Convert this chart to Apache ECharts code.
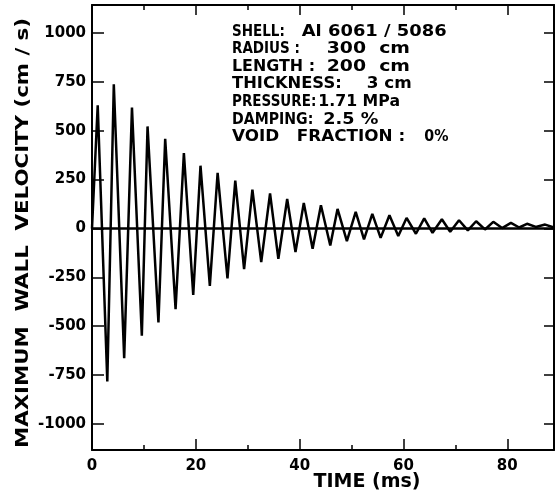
<!DOCTYPE html>
<html><head><meta charset="utf-8">
<script src="https://cdn.jsdelivr.net/npm/echarts@6/dist/echarts.min.js"></script>
<style>html,body{margin:0;padding:0;background:#fff}#c{width:556px;height:495px}</style>
</head><body><div id="c"></div>
<script>
// ---- data ----
const timeMs = [0, 1.1, 2.95, 4.2, 6.2, 7.7, 9.6, 10.7, 12.8, 14.1, 16.1, 17.7, 19.5, 20.9, 22.7, 24.2, 26.1, 27.6, 29.3, 30.9, 32.6, 34.3, 35.9, 37.6, 39.2, 40.8, 42.5, 44.1, 45.9, 47.3, 49.1, 50.8, 52.4, 54.0, 55.6, 57.3, 59.0, 60.6, 62.4, 64.0, 65.6, 67.4, 69.0, 70.7, 72.4, 74.0, 75.7, 77.3, 79.0, 80.7, 82.3, 83.8, 85.5, 87.3, 89];
const velocity = [0, 630, -783, 738, -663, 618, -549, 522, -481, 459, -413, 386, -340, 321, -294, 284, -255, 245, -208, 199, -172, 179, -155, 151, -121, 131, -104, 119, -87, 100, -65, 85, -56, 75, -48, 68, -39, 54, -27, 52, -22, 47, -17, 42, -10, 37, -5, 34, 2, 29, 5, 24, 8, 20, 5];
const xLabelTicks = [0, 20, 40, 60, 80];
const xMajorTicks = [20, 40, 60, 80];
const xMinorTicks = [10, 30, 50, 70];
const yTicks = [-1000, -750, -500, -250, 0, 250, 500, 750, 1000];
const annoLabels = ['SHELL:', 'RADIUS :', 'LENGTH :', 'THICKNESS:', 'PRESSURE:', 'DAMPING:', 'VOID   FRACTION :'];
const annoValues = ['Al 6061 / 5086', '300  cm', '200  cm', '3 cm', '1.71 MPa', '2.5 %', '0%'];
const yName = 'MAXIMUM  WALL  VELOCITY (cm / s)';
const xName = 'TIME (ms)';

// ---- layout / style ----
const FF = '"DejaVu Sans", sans-serif';
const K = '#000';
const XMIN = 0, XMAX = 89, YMIN = -1133, YMAX = 1143;
const labelX = 232;
const labelW = [52, 64.7, 83, 109.7, 82.3, 81.3, 189.7];
const valueX = [301.7, 326.7, 326.7, 366.7, 318.3, 323.3, 424.3];
const valueW = [145, 83.3, 83.3, 45, 81.7, 55, 22.4];
const annoY0 = 31.7, annoDY = 17.6;
const ANNO_FONT = 'bold 15px ' + FF;
const YNAME_FONT = 'bold 18px ' + FF;

const mctx = document.createElement('canvas').getContext('2d');
function fitScale(text, font, w, lo, hi) {
  mctx.font = font;
  const m = mctx.measureText(text).width;
  const s = m > 0 ? w / m : 1;
  return Math.max(lo, Math.min(hi, s));
}

function xAx(pos, ticks, len, showLine, showLabel) {
  return {
    type: 'value', position: pos, min: XMIN, max: XMAX, interval: 10,
    axisLine: { show: showLine, onZero: false, lineStyle: { color: K, width: 2 } },
    axisTick: { show: true, inside: true, length: len, customValues: ticks, lineStyle: { color: K, width: 1.5 } },
    axisLabel: showLabel ? { show: true, customValues: xLabelTicks, formatter: v => String(v), color: K, fontFamily: FF, fontWeight: 'bold', fontSize: 15, margin: 9 } : { show: false },
    splitLine: { show: false }
  };
}
function yAx(pos, len, showLabel) {
  return {
    type: 'value', position: pos, min: YMIN, max: YMAX,
    axisLine: { show: true, onZero: false, lineStyle: { color: K, width: 2 } },
    axisTick: { show: true, inside: true, length: len, customValues: yTicks, lineStyle: { color: K, width: 1.5 } },
    axisLabel: showLabel ? { show: true, customValues: yTicks, formatter: v => String(v), color: K, fontFamily: FF, fontWeight: 'bold', fontSize: 15, margin: 6 } : { show: false },
    splitLine: { show: false }
  };
}

const graphics = [];
graphics.push({ type: 'text', x: 23, y: 233, rotation: Math.PI / 2,
  scaleX: fitScale(yName, YNAME_FONT, 430, 0.5, 2),
  style: { text: yName, font: YNAME_FONT, fill: K, align: 'center', verticalAlign: 'middle' } });
graphics.push({ type: 'text', x: 367, y: 482.5,
  style: { text: xName, font: 'bold 19px ' + FF, fill: K, align: 'center', verticalAlign: 'middle' } });
annoLabels.forEach((t, i) => {
  const y = annoY0 + i * annoDY;
  graphics.push({ type: 'text', x: labelX, y: y, scaleX: fitScale(t, ANNO_FONT, labelW[i], 0.9, 1.12),
    style: { text: t, font: ANNO_FONT, fill: K, align: 'left', verticalAlign: 'middle' } });
  graphics.push({ type: 'text', x: valueX[i], y: y, scaleX: fitScale(annoValues[i], ANNO_FONT, valueW[i], 0.95, 1.3),
    style: { text: annoValues[i], font: ANNO_FONT, fill: K, align: 'left', verticalAlign: 'middle' } });
});

const chart = echarts.init(document.getElementById('c'), null, { renderer: 'canvas' });
chart.setOption({
  animation: false,
  backgroundColor: '#fff',
  grid: { left: 92, right: 2, top: 5, bottom: 45, show: false },
  xAxis: [
    xAx('bottom', xMajorTicks, 11, true, true),
    xAx('bottom', xMinorTicks, 5, false, false),
    xAx('top', xMajorTicks, 10, true, false),
    xAx('top', xMinorTicks, 5, false, false)
  ],
  yAxis: [yAx('left', 12, true), yAx('right', 10, false)],
  graphic: graphics,
  series: [{
    type: 'line', xAxisIndex: 0, yAxisIndex: 0,
    data: timeMs.map((t, i) => [t, velocity[i]]),
    showSymbol: false, symbol: 'none',
    lineStyle: { color: K, width: 2.5 },
    markLine: {
      silent: true, symbol: ['none', 'none'], label: { show: false },
      lineStyle: { color: K, width: 2.5, type: 'solid' },
      data: [{ yAxis: 0 }]
    }
  }]
});
</script></body></html>
